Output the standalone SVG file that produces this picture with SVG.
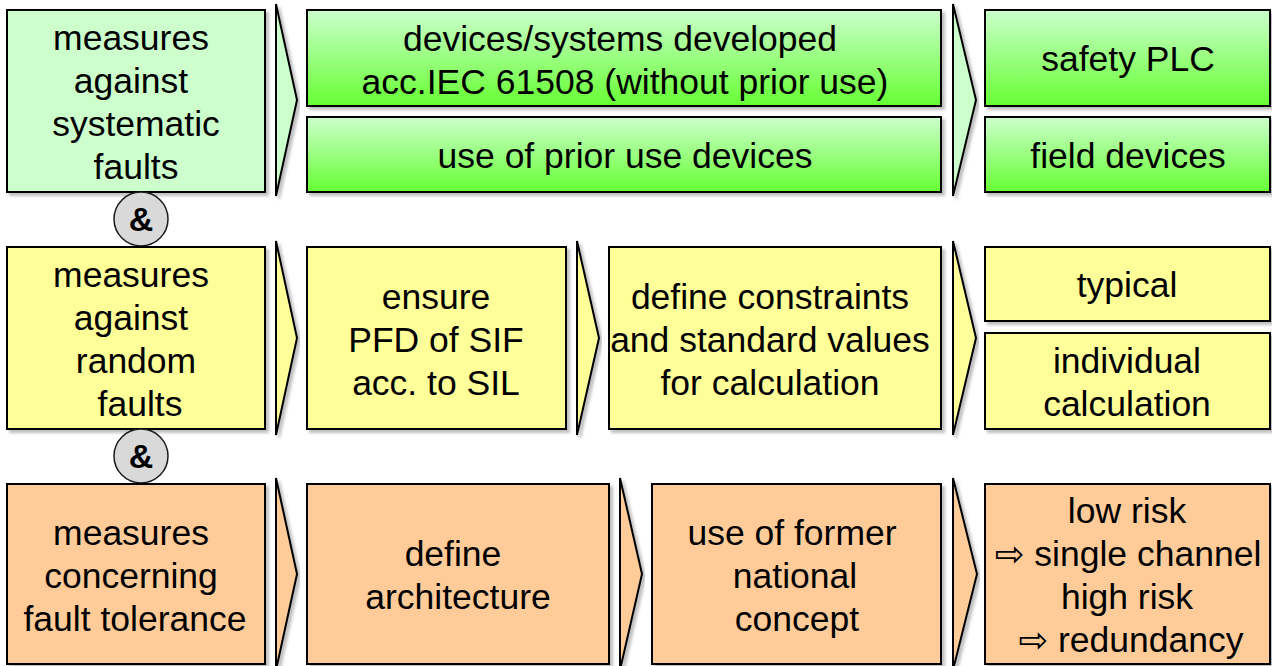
<svg xmlns="http://www.w3.org/2000/svg" width="1272" height="666" viewBox="0 0 1272 666">
<defs>
<linearGradient id="gg" x1="0" y1="0" x2="0" y2="1">
<stop offset="0" stop-color="#ccffcc"/>
<stop offset="1" stop-color="#66ff33"/>
</linearGradient>
<filter id="sh" x="-5%" y="-5%" width="115%" height="115%">
<feDropShadow dx="3" dy="3" stdDeviation="1.5" flood-color="#000" flood-opacity="0.25"/>
</filter>
</defs>
<style>
.b{stroke:#000;stroke-width:2;filter:url(#sh)}
.c{stroke:#000;stroke-width:2;stroke-linejoin:miter;filter:url(#sh)}
.g{fill:#ccffcc}.gr{fill:url(#gg)}.y{fill:#ffff99}.o{fill:#ffcc99}
text{font-family:"Liberation Sans",Arial,"DejaVu Sans",sans-serif;font-size:35.5px;fill:#000;text-anchor:middle}
.amp{font-weight:bold;font-size:34px}
</style>
<rect width="1272" height="666" fill="#fff"/>
<g id="connectors">
<polygon class="c g" points="276,4 297,100 276,196"/>
<polygon class="c g" points="953,4 976,100 953,196"/>
<polygon class="c y" points="276,241 297,338 276,435"/>
<polygon class="c y" points="577,241 599,338 577,435"/>
<polygon class="c y" points="953,241 976,338 953,435"/>
<polygon class="c o" points="276,478 297,574 276,670"/>
<polygon class="c o" points="620,478 642,574 620,670"/>
<polygon class="c o" points="953,478 977,574 953,670"/>
</g>
<g id="sys">
<rect class="b g" x="7" y="10" width="258" height="182"/>
<text x="131" y="50">measures</text>
<text x="131" y="93">against</text>
<text x="136" y="136">systematic</text>
<text x="136" y="179">faults</text>
</g>
<g id="iec">
<rect class="b gr" x="307" y="10" width="634" height="96"/>
<text x="620" y="51">devices/systems developed</text>
<text x="625" y="94">acc.IEC 61508 (without prior use)</text>
</g>
<g id="prior">
<rect class="b gr" x="307" y="117" width="634" height="75"/>
<text x="625" y="168">use of prior use devices</text>
</g>
<g id="plc">
<rect class="b gr" x="985" y="10" width="285" height="96"/>
<text x="1128" y="71">safety PLC</text>
</g>
<g id="field">
<rect class="b gr" x="985" y="117" width="285" height="75"/>
<text x="1128" y="168">field devices</text>
</g>
<g id="and1">
<circle cx="141" cy="219" r="27" fill="#d9d9d9" stroke="#1a1a1a" stroke-width="1.5"/>
<text class="amp" x="141" y="231">&amp;</text>
</g>
<g id="rand">
<rect class="b y" x="7" y="247" width="258" height="182"/>
<text x="131" y="287">measures</text>
<text x="131" y="330">against</text>
<text x="136" y="373">random</text>
<text x="140" y="416">faults</text>
</g>
<g id="pfd">
<rect class="b y" x="307" y="247" width="259" height="182"/>
<text x="436" y="309">ensure</text>
<text x="436" y="352">PFD of SIF</text>
<text x="436" y="395">acc. to SIL</text>
</g>
<g id="constr">
<rect class="b y" x="609" y="247" width="332" height="182"/>
<text x="770" y="309">define constraints</text>
<text x="770" y="352">and standard values</text>
<text x="770" y="395">for calculation</text>
</g>
<g id="typical">
<rect class="b y" x="985" y="247" width="285" height="74"/>
<text x="1127" y="297">typical</text>
</g>
<g id="indiv">
<rect class="b y" x="985" y="333" width="285" height="96"/>
<text x="1127" y="373">individual</text>
<text x="1127" y="416">calculation</text>
</g>
<g id="and2">
<circle cx="141" cy="456" r="27" fill="#d9d9d9" stroke="#1a1a1a" stroke-width="1.5"/>
<text class="amp" x="141" y="468">&amp;</text>
</g>
<g id="ft">
<rect class="b o" x="7" y="484" width="258" height="180"/>
<text x="131" y="545">measures</text>
<text x="131" y="588">concerning</text>
<text x="135" y="631">fault tolerance</text>
</g>
<g id="arch">
<rect class="b o" x="307" y="484" width="302" height="180"/>
<text x="453" y="566">define</text>
<text x="458" y="609">architecture</text>
</g>
<g id="former">
<rect class="b o" x="652" y="484" width="289" height="180"/>
<text x="792" y="545">use of former</text>
<text x="795" y="588">national</text>
<text x="797" y="631">concept</text>
</g>
<g id="risk">
<rect class="b o" x="985" y="484" width="285" height="180"/>
<text x="1127" y="523">low risk</text>
<text x="1128" y="566">⇨ single channel</text>
<text x="1127" y="609">high risk</text>
<text x="1131" y="652">⇨ redundancy</text>
</g>
</svg>
